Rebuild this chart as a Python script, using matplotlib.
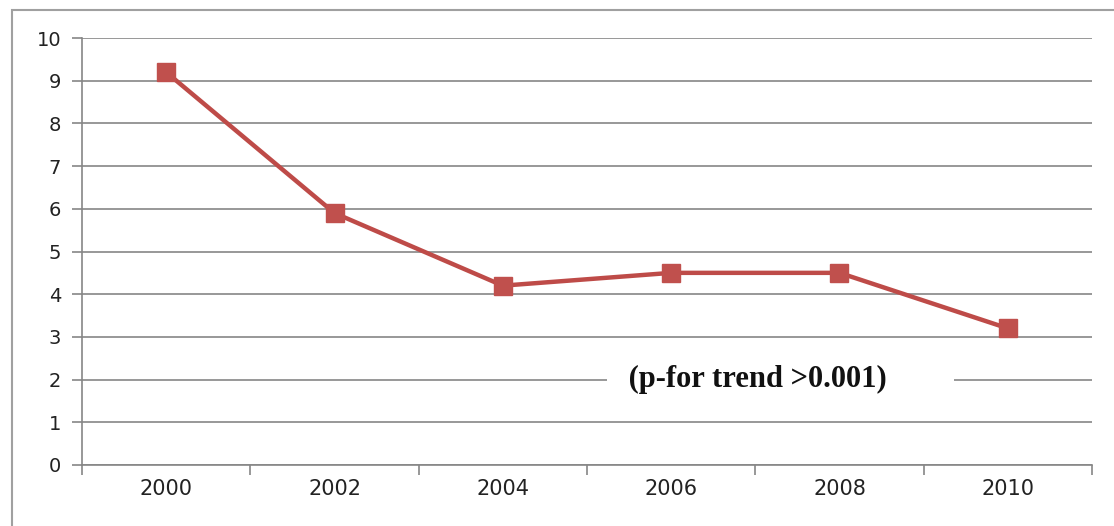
import matplotlib.pyplot as plt
from matplotlib.patches import Rectangle
import numpy as np

years = ["2000", "2002", "2004", "2006", "2008", "2010"]
values = [9.2, 5.9, 4.2, 4.5, 4.5, 3.2]
note = "(p-for trend >0.001)"

grid_col = "#868686"
line_col = "#BE4B48"

fig = plt.figure(figsize=(11.14, 5.26), dpi=100)
# outer chart border (right/bottom edges are cut off in the original)
fig.patches.append(Rectangle((12 / 1114, -0.05), 1.2, (526 - 10) / 526 + 0.05,
                             transform=fig.transFigure, fill=False,
                             edgecolor="#A0A0A0", linewidth=1.5))

ax = fig.add_axes([82 / 1114, (526 - 465) / 526, (1092 - 82) / 1114, (465 - 38) / 526])

x = np.arange(len(years)) + 0.5
ax.plot(x, values, color=line_col, linewidth=3.2, marker="s", markersize=13,
        markerfacecolor="#C0504D", markeredgecolor="#C0504D", zorder=3)

ax.set_xlim(0, len(years))
ax.set_ylim(0, 10)
ax.set_yticks(range(0, 11))
ax.yaxis.grid(True, color=grid_col, linewidth=1.2)
ax.set_axisbelow(True)

# category labels in the middle, tick marks at boundaries
ax.set_xticks(range(0, len(years) + 1))
ax.set_xticklabels([])
ax.set_xticks(x, minor=True)
ax.set_xticklabels(years, minor=True, fontsize=15, color="#222222")
ax.tick_params(axis="x", which="minor", length=0, pad=10)
ax.tick_params(axis="x", which="major", length=7, color=grid_col, width=1.2, direction="out")
ax.tick_params(axis="y", length=7, color=grid_col, width=1.2, labelsize=14,
               labelcolor="#222222", pad=8)

for s in ["top", "right"]:
    ax.spines[s].set_visible(False)
for s in ["left", "bottom"]:
    ax.spines[s].set_color(grid_col)
    ax.spines[s].set_linewidth(1.2)

ax.text(3.2, 2, " " + note + "       ", ha="left", va="center", fontsize=22,
        fontweight="bold", family="Liberation Serif", color="#111111",
        bbox=dict(facecolor="white", edgecolor="none", pad=10), zorder=4)

fig.savefig("out.png", dpi=100)
